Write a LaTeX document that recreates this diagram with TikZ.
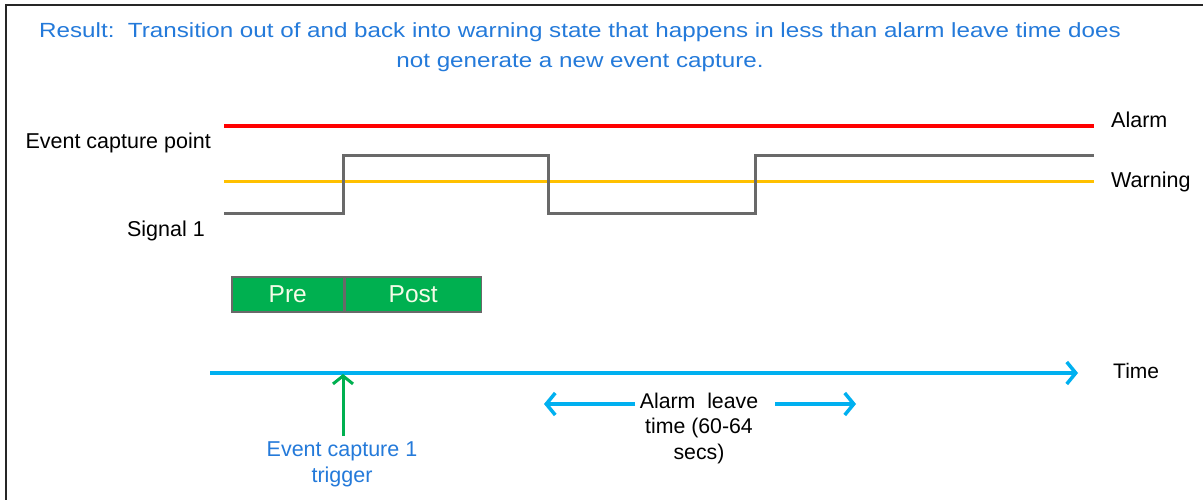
\documentclass[tikz,border=0pt]{standalone}
\usepackage{fontspec}
\setmainfont{Liberation Sans}
\usetikzlibrary{arrows.meta}
\definecolor{alarmred}{RGB}{255,0,0}
\definecolor{warnorange}{RGB}{255,192,0}
\definecolor{siggray}{RGB}{105,105,105}
\definecolor{boxgreen}{RGB}{0,176,80}
\definecolor{boxtext}{RGB}{245,252,232}
\definecolor{timecyan}{RGB}{0,176,240}
\definecolor{titleblue}{RGB}{36,122,218}
\tikzset{
  lbl/.style={inner sep=0pt, font=\fontsize{21.5}{24}\selectfont, text=black},
  bluelbl/.style={inner sep=0pt, font=\fontsize{21.5}{26}\selectfont, text=titleblue, align=center},
  phasebox/.style={draw=siggray, line width=1.5pt, fill=boxgreen, text=boxtext, font=\fontsize{24.5}{26}\selectfont, minimum height=35pt, inner sep=0pt},
  barb/.style={-{Straight Barb[length=9pt,width=22pt,line width=3.5pt]}},
}
\begin{document}
\begin{tikzpicture}[x=1pt,y=-1pt]
\useasboundingbox (0,0) rectangle (1203,500);
\fill[white] (0,0) rectangle (1203,500);
% frame
\draw[line width=2.5pt, black!85] (6,500) -- (6,5) -- (1203,5);
% title
\node[bluelbl, font=\fontsize{20.5}{30}\selectfont\addfontfeature{FakeStretch=1.18}] (title) at (580,47) {Result:\ \ Transition out of and back into warning state that happens in less than alarm leave time does\\not generate a new event capture.};
% threshold lines
\coordinate (a1) at (224,126); \coordinate (a2) at (1094,126);
\coordinate (w1) at (224,182); \coordinate (w2) at (1094,182);
\draw[alarmred, line width=3.5pt] (a1) -- (a2);
\draw[warnorange, line width=3pt] (w1) -- (w2);
\node[lbl, anchor=west] (alarm) at (1111,120) {Alarm};
\node[lbl, anchor=west] (warning) at (1111,182) {Warning};
\node[lbl, anchor=east] (ecp) at (211,143) {Event capture point};
\node[lbl, anchor=east] (sig) at (205,231) {Signal 1};
% signal
\coordinate (s0) at (224,214);
\coordinate (s1) at (343,214); \coordinate (s2) at (343,156);
\coordinate (s3) at (548,156); \coordinate (s4) at (548,214);
\coordinate (s5) at (755,214); \coordinate (s6) at (755,156);
\coordinate (s7) at (1094,156);
\draw[siggray, line width=3pt] (s0) -- (s1) -- (s2) -- (s3) -- (s4) -- (s5) -- (s6) -- (s7);
% pre / post
\node[phasebox, minimum width=112pt, anchor=north west] (pre) at (231,276) {Pre};
\node[phasebox, minimum width=136pt, anchor=north west] (post) at (pre.north east) {Post};
% time axis
\coordinate (t0) at (210,373); \coordinate (t1) at (1078,373);
\draw[timecyan, line width=3.5pt, barb] (t0) -- (t1);
\node[lbl, font=\fontsize{21}{24}\selectfont, anchor=west] (time) at (1113,371) {Time};
% trigger
\coordinate (g0) at (343,436); \coordinate (g1) at (343,374);
\draw[boxgreen, line width=3pt, -{Straight Barb[length=8pt,width=20pt,line width=3pt]}] (g0) -- (g1);
\node[bluelbl] (trig) at (342,464) {Event capture 1\\trigger};
% alarm leave
\node[lbl, align=center, font=\fontsize{21.3}{25.5}\selectfont] (leave) at (699,428) {Alarm\ \ leave\\time (60-64\\secs)};
\coordinate (l0) at (635,404); \coordinate (l1) at (544,404);
\coordinate (r0) at (775,404); \coordinate (r1) at (856,404);
\draw[timecyan, line width=3.5pt, barb] (l0) -- (l1);
\draw[timecyan, line width=3.5pt, barb] (r0) -- (r1);
\end{tikzpicture}
\end{document}
